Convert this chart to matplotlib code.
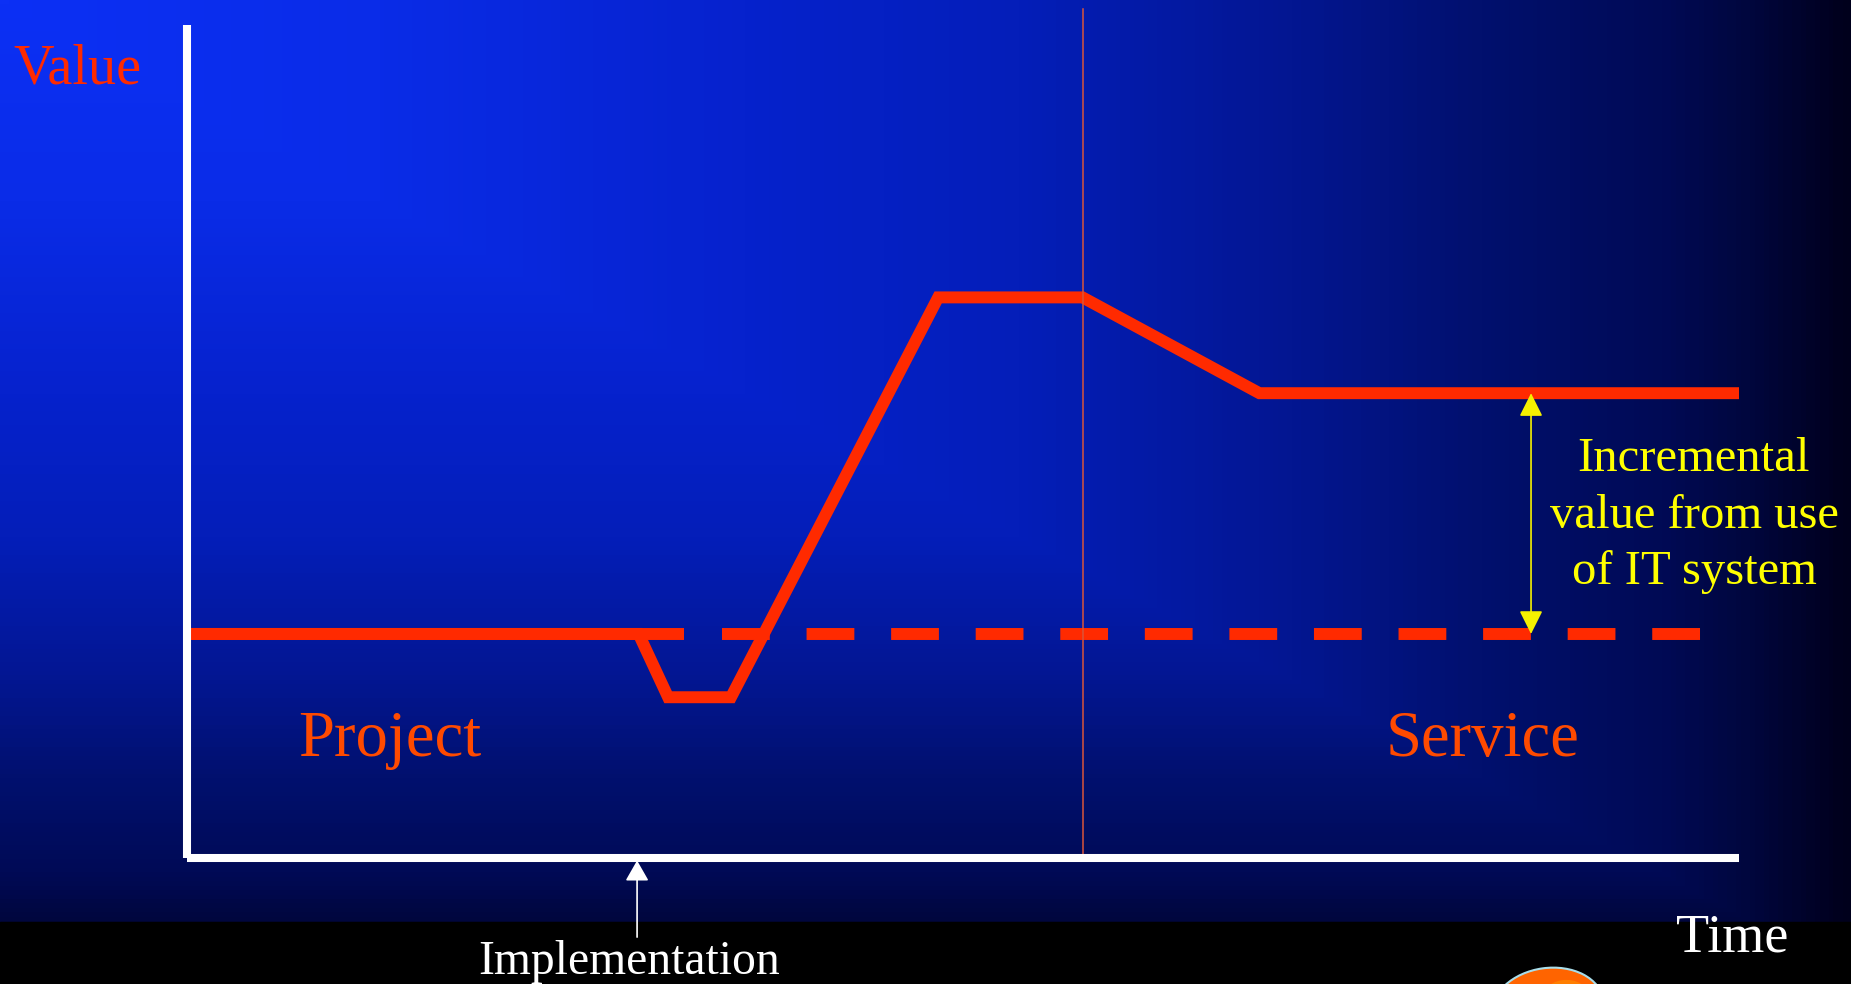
import numpy as np
import matplotlib
matplotlib.use('Agg')
import matplotlib.pyplot as plt
from matplotlib.colors import LinearSegmentedColormap
from matplotlib.patches import Rectangle, Ellipse

plt.rcParams['font.family'] = ['Liberation Serif', 'DejaVu Serif']

# value path with the IT system (time 0..100, value 0..100)
time_pts = [0, 29.1, 31.0, 35.05, 48.4, 57.7, 69.1, 100]
value_pts = [26.9, 26.9, 19.3, 19.3, 67.3, 67.3, 55.8, 55.8]

# value without the IT system
baseline_value = 26.9
baseline_solid = [0, 32.0]
baseline_dashed = [34.5, 97.8]

go_live_time = 57.7          # project -> service boundary
implementation_time = 29.0
increment_time = 86.6        # where the yellow arrow sits

W, H = 1851, 984
fig = plt.figure(figsize=(W / 100, H / 100), dpi=100)

# background: corner gradient, bright blue top-left to near black at the right
bg = fig.add_axes([0, 0, 1, 1])
stops = [(0.0, (12, 48, 245)), (0.2, (10, 44, 232)), (0.4, (6, 34, 205)),
         (0.55, (4, 30, 185)), (0.7, (3, 22, 145)), (0.8, (1, 16, 110)),
         (0.9, (0, 10, 85)), (0.95, (0, 6, 60)), (1.0, (0, 0, 28))]
cmap = LinearSegmentedColormap.from_list(
    'slide', [(p, tuple(c / 255 for c in rgb)) for p, rgb in stops])
xx, yy = np.meshgrid(np.linspace(0, 1, 400), np.linspace(0, 1, 220))
grad = np.maximum(xx, yy * H / 975)
bg.imshow(grad, cmap=cmap, vmin=0, vmax=1, extent=(0, W, H, 0), aspect='auto')
bg.add_patch(Rectangle((0, 922), W, H - 922, color='black'))
bg.add_patch(Ellipse((1548, 1008), 112, 80, angle=-8, facecolor='#FF6400',
                     edgecolor='#A8DDEA', lw=1.5))
bg.add_patch(Ellipse((1565, 1000), 50, 40, angle=-8, facecolor='#FF8A00',
                     edgecolor='none', alpha=0.7))
bg.set_xlim(0, W)
bg.set_ylim(H, 0)
bg.axis('off')

# main chart area
ax = fig.add_axes([187 / W, (H - 858) / H, 1552 / W, 833 / H])
ax.patch.set_visible(False)
ax.set_xlim(0, 100)
ax.set_ylim(0, 100)
for side in ['top', 'right']:
    ax.spines[side].set_visible(False)
for side in ['left', 'bottom']:
    ax.spines[side].set_color('white')
    ax.spines[side].set_linewidth(5.8)
    ax.spines[side].set_capstyle('butt')
ax.set_xticks([])
ax.set_yticks([])

red = '#FF2A00'
ax.plot(baseline_solid, [baseline_value] * 2, color=red, lw=8.6,
        solid_capstyle='butt', clip_on=False)
ax.plot(baseline_dashed, [baseline_value] * 2, color=red, lw=8.6,
        linestyle=(0, (4.0, 3.08)), dash_capstyle='butt', clip_on=False)
ax.plot(time_pts, value_pts, color=red, lw=8.6, solid_capstyle='butt',
        solid_joinstyle='miter', clip_on=False)

ax.plot([go_live_time, go_live_time], [0, 101.9], color='#D9553A', lw=1.1,
        clip_on=False)

# incremental value arrow
ax.annotate('', xy=(increment_time, value_pts[-1]),
            xytext=(increment_time, baseline_value),
            arrowprops=dict(arrowstyle='<|-|>,head_length=0.8,head_width=0.4',
                            mutation_scale=18, color='#F5F000', lw=1.2,
                            shrinkA=0, shrinkB=0))
ax.text(97.1, 50.5, 'Incremental\nvalue from use\nof IT system', color='#FFFF00',
        fontsize=35, ha='center', va='top', linespacing=1.36)

# implementation marker
ax.annotate('', xy=(implementation_time, -0.3),
            xytext=(implementation_time, -9.5),
            arrowprops=dict(arrowstyle='-|>,head_length=0.7,head_width=0.4',
                            mutation_scale=18, color='white', lw=1.2,
                            shrinkA=0, shrinkB=0), annotation_clip=False)

ax.text(13.1, 12.2, 'Project', color='#FF4A00', fontsize=46.5,
        ha='center', va='baseline')
ax.text(83.5, 12.2, 'Service', color='#FF4A00', fontsize=46.5,
        ha='center', va='baseline')

fig.text(13 / W, 1 - 83 / H, 'Value', color=red, fontsize=40.5,
         ha='left', va='baseline')
fig.text(1732 / W, 1 - 951 / H, 'Time', color='white', fontsize=39,
         ha='center', va='baseline')
fig.text(629.5 / W, 1 - 974 / H, 'Implementation', color='white', fontsize=34.3,
         ha='center', va='baseline')

fig.savefig('out.png', dpi=100)
